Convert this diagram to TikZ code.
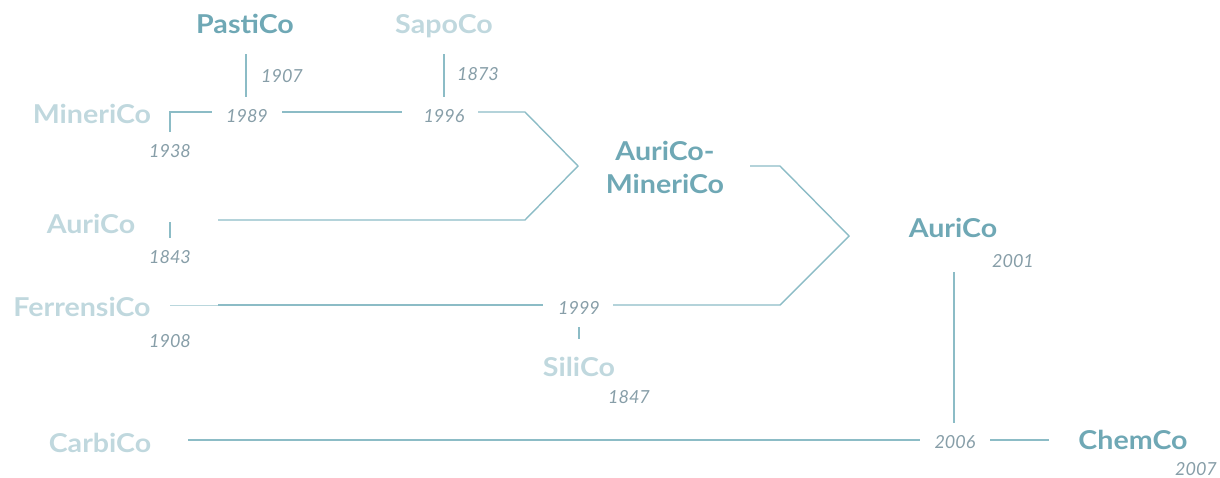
\documentclass[tikz,border=0pt]{standalone}
\usepackage{fontspec}
\setmainfont{Lato}
\newfontfamily\cofont[FakeStretch=1.1]{Lato}
\definecolor{dark}{RGB}{111,168,181}
\definecolor{pale}{RGB}{192,216,222}
\definecolor{yearc}{RGB}{135,158,168}
\definecolor{linec}{RGB}{140,188,198}
\begin{document}
\begin{tikzpicture}[x=1pt,y=-1pt,
  co/.style={font=\cofont\bfseries\fontsize{26}{33}\selectfont, inner sep=0pt, anchor=base},
  codark/.style={co, text=dark},
  copale/.style={co, text=pale},
  year/.style={font=\itshape\fontsize{18}{20}\selectfont, text=yearc, inner sep=0pt, anchor=base},
  link/.style={draw=linec, line width=1.4pt},
  faint/.style={draw=linec!60, line width=0.9pt}]
\useasboundingbox (0,0) rectangle (1220,477);

% companies
\node[codark] (pasti) at (245,33) {PastiCo};
\node[copale] (sapo) at (444,33) {SapoCo};
\node[copale] (mineri) at (92,123) {MineriCo};
\node[copale] (auri0) at (91,233) {AuriCo};
\node[copale] (ferrensi) at (82,316) {FerrensiCo};
\node[copale] (sili) at (579,376) {SiliCo};
\node[copale] (carbi) at (100,452) {CarbiCo};
\node[codark, align=center] (am) at (665,193) {AuriCo-\\MineriCo};
\node[codark] (auri) at (953,237) {AuriCo};
\node[codark] (chem) at (1133,449) {ChemCo};

% years
\node[year] (y1907) at (282,82) {1907};
\node[year] (y1873) at (478,80) {1873};
\node[year] (y1989) at (247,122) {1989};
\node[year] (y1996) at (444,122) {1996};
\node[year] (y1938) at (170,157) {1938};
\node[year] (y1843) at (170,263) {1843};
\node[year] (y1908) at (170,347) {1908};
\node[year] (y1999) at (579,314) {1999};
\node[year] (y1847) at (629,403) {1847};
\node[year] (y2001) at (1013,267) {2001};
\node[year] (y2006) at (955,448) {2006};
\node[year] (y2007) at (1196,475) {2007};

% line ends and corners
\coordinate (pt) at (246,54);   \coordinate (pb) at (246,97);
\coordinate (st) at (444,54);   \coordinate (sb) at (444,97);
\coordinate (mb) at (170,132);  \coordinate (mc) at (170,112);
\coordinate (m1) at (212,112);  \coordinate (m2) at (282,112);
\coordinate (m3) at (402,112);  \coordinate (m4) at (478,112);
\coordinate (h1) at (525,112);  \coordinate (h2) at (578,166);
\coordinate (h3) at (525,220);  \coordinate (a1) at (218,220);
\coordinate (at) at (170,222);  \coordinate (ab) at (170,238);
\coordinate (f0) at (170,305);  \coordinate (f1) at (218,305);
\coordinate (f2) at (543,305);  \coordinate (f3) at (613,305);
\coordinate (k1) at (780,305);  \coordinate (k2) at (849,236);
\coordinate (k3) at (780,166);  \coordinate (k4) at (750,166);
\coordinate (stt) at (579,327); \coordinate (stb) at (579,339);
\coordinate (vt) at (954,272);  \coordinate (vb) at (954,423);
\coordinate (c1) at (188,440);  \coordinate (c2) at (920,440);
\coordinate (c3) at (990,440);  \coordinate (c4) at (1049,440);

% connectors
\draw[link] (pt) -- (pb);
\draw[link] (st) -- (sb);
\draw[link] (mb) -- (mc) -- (m1);
\draw[link] (m2) -- (m3);
\draw[link] (m4) -- (h1) -- (h2) -- (h3) -- (a1);
\draw[link] (at) -- (ab);
\draw[faint] (f0) -- (f1);
\draw[link] (f1) -- (f2);
\draw[link] (f3) -- (k1) -- (k2) -- (k3) -- (k4);
\draw[link] (stt) -- (stb);
\draw[link] (vt) -- (vb);
\draw[link, line width=1.1pt] (c1) -- (c2);
\draw[link] (c3) -- (c4);
\end{tikzpicture}
\end{document}
